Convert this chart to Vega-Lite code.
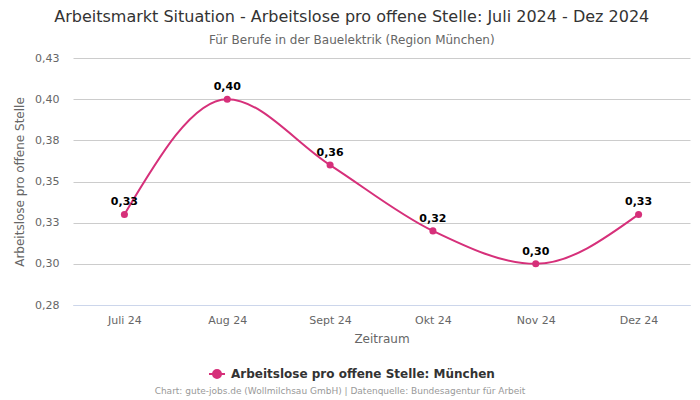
{
  "$schema": "https://vega.github.io/schema/vega-lite/v6.json",
  "width": 617,
  "height": 247,
  "autosize": {"type": "none"},
  "padding": {"left": 73, "top": 58, "right": 10, "bottom": 95},
  "background": "#ffffff",
  "title": {
    "text": "Arbeitsmarkt Situation - Arbeitslose pro offene Stelle: Juli 2024 - Dez 2024",
    "subtitle": "Für Berufe in der Bauelektrik (Region München)",
    "anchor": "middle",
    "frame": "bounds",
    "font": "DejaVu Sans",
    "fontSize": 16,
    "fontWeight": "normal",
    "color": "#333333",
    "subtitleFont": "DejaVu Sans",
    "subtitleFontSize": 12,
    "subtitleColor": "#666666",
    "subtitlePadding": 10,
    "offset": 6
  },
  "config": {
    "view": {"stroke": null},
    "font": "DejaVu Sans",
    "locale": {"number": {"decimal": ",", "thousands": ".", "grouping": [3], "currency": ["", " €"]}}
  },
  "data": {
    "values": [
      {"monat": "Juli 24", "wert": 0.33, "serie": "Arbeitslose pro offene Stelle: München"},
      {"monat": "Aug 24", "wert": 0.40, "serie": "Arbeitslose pro offene Stelle: München"},
      {"monat": "Sept 24", "wert": 0.36, "serie": "Arbeitslose pro offene Stelle: München"},
      {"monat": "Okt 24", "wert": 0.32, "serie": "Arbeitslose pro offene Stelle: München"},
      {"monat": "Nov 24", "wert": 0.30, "serie": "Arbeitslose pro offene Stelle: München"},
      {"monat": "Dez 24", "wert": 0.33, "serie": "Arbeitslose pro offene Stelle: München"}
    ]
  },
  "encoding": {
    "x": {
      "field": "monat",
      "type": "nominal",
      "sort": null,
      "scale": {"type": "point", "padding": 0.5},
      "axis": {
        "title": "Zeitraum",
        "titleFont": "DejaVu Sans",
        "titleFontSize": 12,
        "titleFontWeight": "normal",
        "titleColor": "#666666",
        "titlePadding": 8,
        "labelFont": "DejaVu Sans",
        "labelFontSize": 11,
        "labelColor": "#666666",
        "labelAngle": 0,
        "labelPadding": 9,
        "ticks": false,
        "tickSize": 0,
        "domain": true,
        "domainColor": "#ccd6eb",
        "domainWidth": 1,
        "grid": false
      }
    },
    "y": {
      "field": "wert",
      "type": "quantitative",
      "scale": {"domain": [0.275, 0.425], "nice": false, "zero": false},
      "axis": {
        "title": "Arbeitslose pro offene Stelle",
        "titleFont": "DejaVu Sans",
        "titleFontSize": 12,
        "titleFontWeight": "normal",
        "titleColor": "#666666",
        "titlePadding": 8,
        "labelFont": "DejaVu Sans",
        "labelFontSize": 11,
        "labelColor": "#666666",
        "labelPadding": 14,
        "values": [0.275, 0.3, 0.325, 0.35, 0.375, 0.4, 0.425],
        "labelExpr": "replace(format(datum.value + 0.000000001, '.2f'), '.', ',')",
        "ticks": false,
        "tickSize": 0,
        "domain": false,
        "grid": true,
        "gridColor": "#cccccc",
        "gridWidth": 1
      }
    }
  },
  "layer": [
    {
      "mark": {"type": "line", "interpolate": "monotone", "strokeWidth": 2},
      "encoding": {
        "color": {
          "field": "serie",
          "type": "nominal",
          "scale": {"range": ["#d6307a"]},
          "legend": {
            "orient": "none",
            "legendX": 82,
            "legendY": 307,
            "direction": "horizontal",
            "title": "Chart: gute-jobs.de (Wollmilchsau GmbH) | Datenquelle: Bundesagentur für Arbeit",
            "titleOrient": "bottom",
            "titleAnchor": "middle",
            "titleFont": "DejaVu Sans",
            "titleFontSize": 9,
            "titleFontWeight": "normal",
            "titleColor": "#999999",
            "titlePadding": 5,
            "titleLimit": 600,
            "labelFont": "DejaVu Sans",
            "labelFontSize": 12,
            "labelFontWeight": "bold",
            "labelColor": "#333333",
            "labelLimit": 500,
            "symbolType": "M-1,0L1,0M-0.5,0A0.5,0.5,0,1,0,0.5,0A0.5,0.5,0,1,0,-0.5,0Z",
            "symbolSize": 256,
            "symbolStrokeWidth": 2,
            "symbolFillColor": "#d6307a",
            "symbolStrokeColor": "#d6307a",
            "symbolOffset": 22,
            "labelOffset": 5
          }
        }
      }
    },
    {
      "mark": {"type": "point", "filled": true, "size": 50, "opacity": 1, "color": "#d6307a"},
      "encoding": {}
    },
    {
      "mark": {"type": "text", "dy": -12, "fontSize": 11, "fontWeight": "bold", "color": "#000000", "font": "DejaVu Sans"},
      "encoding": {
        "text": {"field": "wert", "type": "quantitative", "format": ".2f"}
      }
    }
  ]
}
